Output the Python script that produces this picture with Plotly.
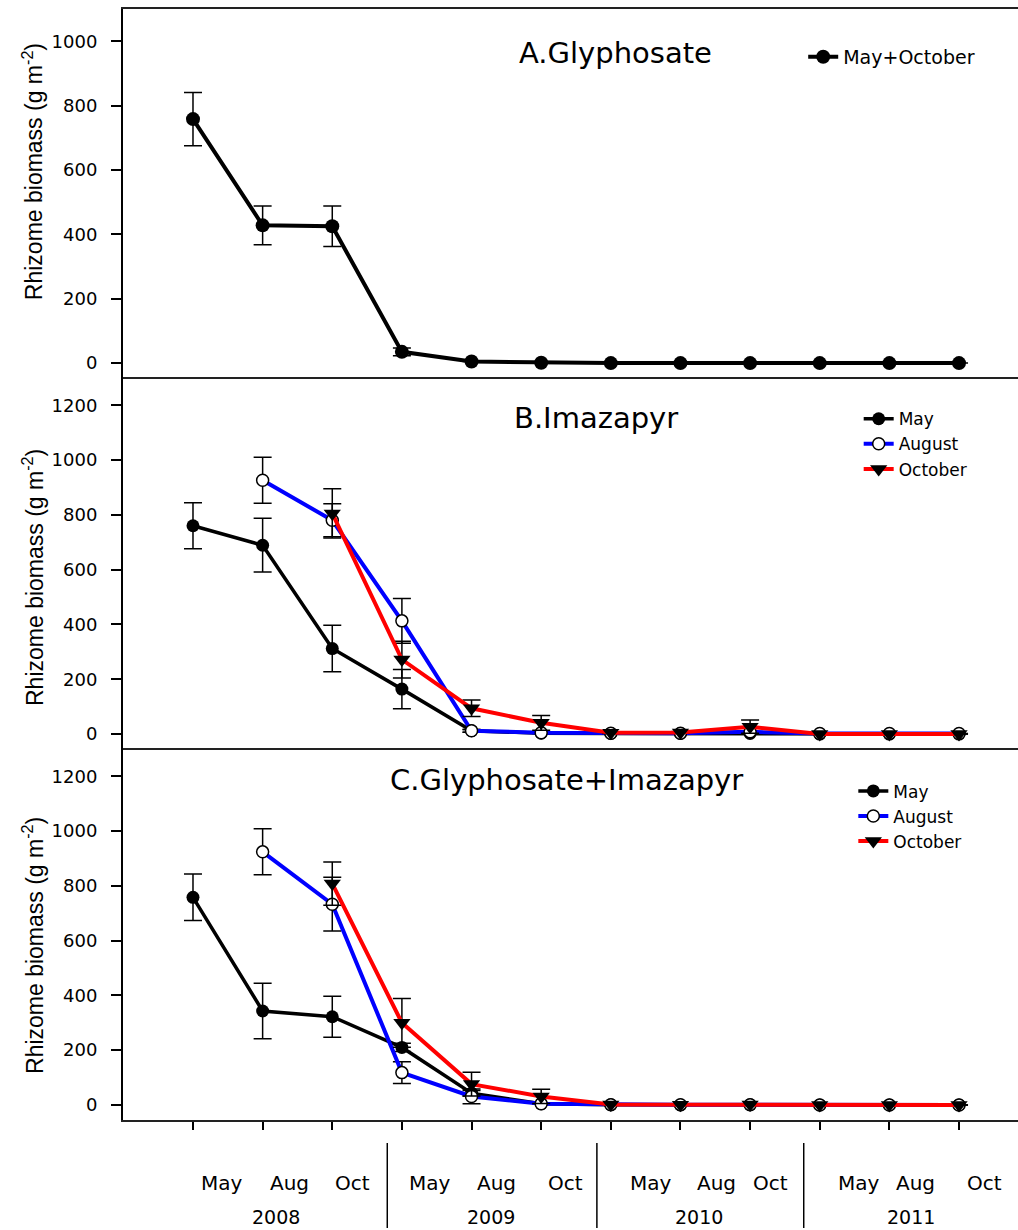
import plotly.graph_objects as go

# ---------------- data ----------------
sampling = ["May 2008", "Aug 2008", "Oct 2008",
            "May 2009", "Aug 2009", "Oct 2009",
            "May 2010", "Aug 2010", "Oct 2010",
            "May 2011", "Aug 2011", "Oct 2011"]
x_idx = list(range(len(sampling)))

# Panel A: Glyphosate (May+October)
glyph_mean = [758, 428, 425, 35, 5, 1, 0, 0, 0, 0, 0, 0]
glyph_se = [83, 60, 63, 12, 0, 0, 0, 0, 0, 0, 0, 0]

# Panel B: Imazapyr
ima_may = [760, 689, 312, 164, 12, 3, 2, 2, 2, 0, 0, 0]
ima_may_se = [84, 98, 85, 72, 5, 0, 0, 0, 0, 0, 0, 0]
ima_aug = [None, 926, 780, 413, 12, 5, 3, 3, 8, 2, 2, 2]
ima_aug_se = [None, 84, 60, 82, 5, 3, 0, 0, 0, 0, 0, 0]
ima_oct = [None, None, 805, 272, 94, 41, 5, 6, 27, 0, 0, 0]
ima_oct_se = [None, None, 90, 67, 30, 27, 3, 3, 24, 0, 0, 0]

# Panel C: Glyphosate+Imazapyr
gi_may = [758, 343, 322, 210, 43, 4, 1, 0, 1, 0, 0, 0]
gi_may_se = [85, 101, 75, 15, 10, 0, 0, 0, 0, 0, 0, 0]
gi_aug = [None, 924, 733, 118, 31, 4, 1, 1, 1, 0, 0, 0]
gi_aug_se = [None, 84, 98, 40, 27, 0, 0, 0, 0, 0, 0, 0]
gi_oct = [None, None, 808, 300, 76, 31, 2, 1, 2, 0, 0, 0]
gi_oct_se = [None, None, 79, 89, 43, 26, 0, 0, 0, 0, 0, 0]

panel_titles = ["A.Glyphosate", "B.Imazapyr", "C.Glyphosate+Imazapyr"]
y_title = "Rhizome biomass (g m<sup>-2</sup>)"

month_labels = ["May", "Aug", "Oct"] * 4
month_label_pos = [0.42, 1.39, 2.29, 3.40, 4.36, 5.35, 6.57, 7.52, 8.30, 9.57, 10.37, 11.37]
year_labels = ["2008", "2009", "2010", "2011"]
year_label_pos = [1.19, 4.28, 7.27, 10.31]
year_dividers = [2.79, 5.80, 8.77]

# ---------------- styles ----------------
HFONT = "DejaVu Sans"
VFONT = "Liberation Sans"
BLACK, BLUE, RED = "#000000", "#0000ff", "#ff0000"

def err(se):
    return dict(type="data", array=se, visible=True, color="black",
                thickness=1.5, width=9)

fig = go.Figure()

# Panel A
fig.add_trace(go.Scatter(
    x=x_idx, y=glyph_mean, error_y=err(glyph_se), mode="lines+markers",
    name="May+October", line=dict(color=BLACK, width=4),
    marker=dict(symbol="circle", size=14, color=BLACK),
    xaxis="x", yaxis="y", legend="legend"))

series = [
    ("x2", "y2", "legend2", ima_may, ima_may_se, ima_aug, ima_aug_se, ima_oct, ima_oct_se),
    ("x3", "y3", "legend3", gi_may, gi_may_se, gi_aug, gi_aug_se, gi_oct, gi_oct_se),
]
for xa, ya, lg, m, mse, a, ase, o, ose in series:
    fig.add_trace(go.Scatter(
        x=x_idx, y=m, error_y=err(mse), mode="lines+markers", name="May",
        line=dict(color=BLACK, width=3.5),
        marker=dict(symbol="circle", size=13, color=BLACK),
        xaxis=xa, yaxis=ya, legend=lg))
    fig.add_trace(go.Scatter(
        x=x_idx, y=a, error_y=err(ase), mode="lines+markers", name="August",
        line=dict(color=BLUE, width=4),
        marker=dict(symbol="circle", size=12, color="white",
                    line=dict(color=BLACK, width=1.5)),
        xaxis=xa, yaxis=ya, legend=lg))
    fig.add_trace(go.Scatter(
        x=x_idx, y=o, error_y=err(ose), mode="lines+markers", name="October",
        line=dict(color=RED, width=4),
        marker=dict(symbol="triangle-down", size=15, color=BLACK),
        xaxis=xa, yaxis=ya, legend=lg))

xrange = [-1.005, 11.847]
xcommon = dict(range=xrange, showgrid=False, zeroline=False, showline=True,
               linecolor="#222222", linewidth=1.5,
               showticklabels=False, tickvals=x_idx)
ycommon = dict(showgrid=False, zeroline=False, showline=True, linecolor="black",
               linewidth=2, ticks="outside", ticklen=10, tickwidth=1.5,
               tickcolor="black", ticklabelstandoff=10,
               tickfont=dict(family=HFONT, size=18, color="black"))

layout = dict(
    width=1018, height=1230,
    margin=dict(l=123, r=0, t=9, b=110),
    paper_bgcolor="white", plot_bgcolor="white",
    showlegend=True,
    xaxis=dict(xcommon, anchor="y", ticks="", mirror=True),
    xaxis2=dict(xcommon, anchor="y2", ticks=""),
    xaxis3=dict(xcommon, anchor="y3", ticks="outside", ticklen=8,
                tickwidth=1.5, tickcolor="black"),
    yaxis=dict(ycommon, domain=[0.6688, 1.0], range=[-43, 1100],
               tickvals=[0, 200, 400, 600, 800, 1000], anchor="x"),
    yaxis2=dict(ycommon, domain=[0.3348, 0.6688], range=[-51, 1303],
                tickvals=[0, 200, 400, 600, 800, 1000, 1200], anchor="x2"),
    yaxis3=dict(ycommon, domain=[0.0, 0.3348], range=[-55, 1303],
                tickvals=[0, 200, 400, 600, 800, 1000, 1200], anchor="x3"),
)

legfont = dict(family=HFONT, size=19, color="black")
legfont_bc = dict(family=HFONT, size=17, color="black")
layout["legend"] = dict(x=0.76, y=0.974, xanchor="left", yanchor="top",
                        bgcolor="rgba(0,0,0,0)", font=legfont)
layout["legend2"] = dict(x=0.822, y=0.647, xanchor="left", yanchor="top",
                         bgcolor="rgba(0,0,0,0)", font=legfont_bc, tracegroupgap=0)
layout["legend3"] = dict(x=0.816, y=0.312, xanchor="left", yanchor="top",
                         bgcolor="rgba(0,0,0,0)", font=legfont_bc, tracegroupgap=0)
fig.update_layout(**layout)

annotations = []
# panel titles
title_pos = [(0.5508, 0.9604), (0.5285, 0.6319), (0.4950, 0.3060)]
for t, (tx, ty) in zip(panel_titles, title_pos):
    annotations.append(dict(text=t, x=tx, y=ty, xref="paper", yref="paper",
                            showarrow=False, xanchor="center", yanchor="middle",
                            font=dict(family=HFONT, size=29, color="black")))
# y-axis titles
for ty in [0.854, 0.4887, 0.1575]:
    annotations.append(dict(text=y_title, x=-0.1006, y=ty, xref="paper",
                            yref="paper", textangle=-90, showarrow=False,
                            xanchor="center", yanchor="middle",
                            font=dict(family=VFONT, size=23, color="black")))
# month and year labels
for lab, pos in zip(month_labels, month_label_pos):
    annotations.append(dict(text=lab, x=pos, y=-0.0567, xref="x3", yref="paper",
                            showarrow=False, xanchor="center", yanchor="middle",
                            font=dict(family=HFONT, size=20, color="black")))
for lab, pos in zip(year_labels, year_label_pos):
    annotations.append(dict(text=lab, x=pos, y=-0.0873, xref="x3", yref="paper",
                            showarrow=False, xanchor="center", yanchor="middle",
                            font=dict(family=HFONT, size=19, color="black")))
fig.update_layout(annotations=annotations)

shapes = []
for d in year_dividers:
    shapes.append(dict(type="line", xref="x3", yref="paper", x0=d, x1=d,
                       y0=-0.0207, y1=-0.0972, line=dict(color="black", width=1.5)))
fig.update_layout(shapes=shapes)

fig.write_html("out.html")
